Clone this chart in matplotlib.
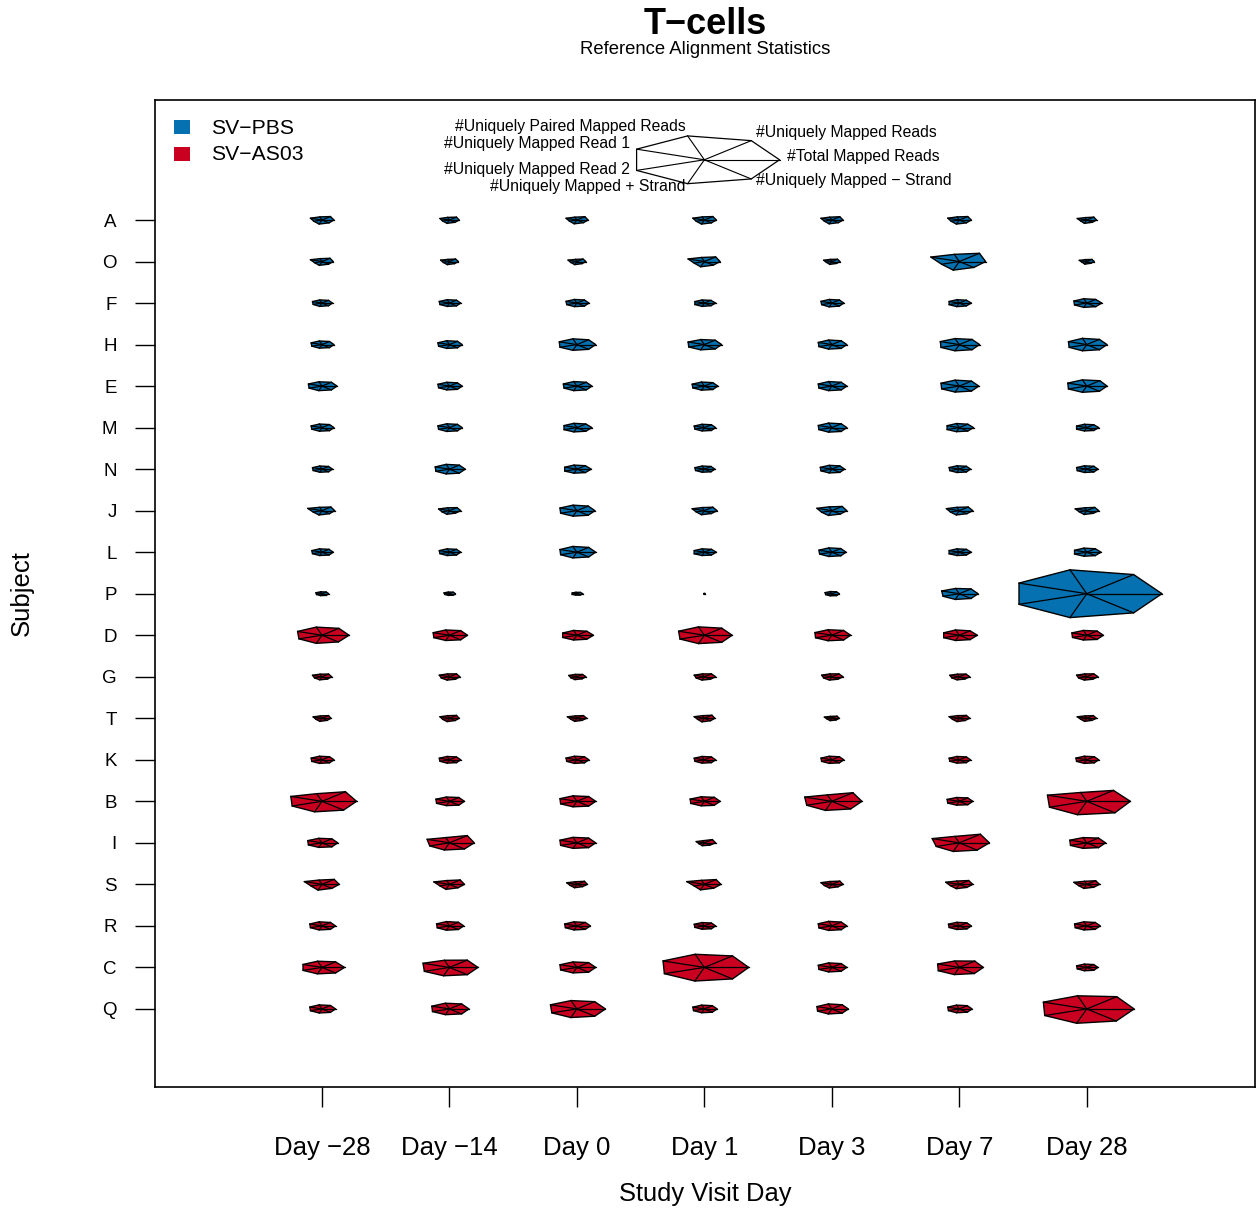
import numpy as np
import matplotlib
matplotlib.use("Agg")
import matplotlib.pyplot as plt
from matplotlib.patches import Polygon, Rectangle

plt.rcParams['font.family'] = ['Liberation Sans', 'DejaVu Sans']

# study days (x axis) and subjects, top to bottom
days = ["Day \u221228", "Day \u221214", "Day 0", "Day 1", "Day 3", "Day 7", "Day 28"]
subjects = ["A", "O", "F", "H", "E", "M", "N", "J", "L", "P",
            "D", "G", "T", "K", "B", "I", "S", "R", "C", "Q"]
groups = ["SV-PBS"] * 10 + ["SV-AS03"] * 10
group_names = ["SV\u2212PBS", "SV\u2212AS03"]
group_colors = {"SV-PBS": "#0571B0", "SV-AS03": "#CA0020"}

variables = ["#Total Mapped Reads", "#Uniquely Mapped Reads",
             "#Uniquely Paired Mapped Reads", "#Uniquely Mapped Read 1",
             "#Uniquely Mapped Read 2", "#Uniquely Mapped + Strand",
             "#Uniquely Mapped \u2212 Strand"]

# scaled (0-1) star values per subject, one row of 7 variables per day
# None = sample missing
stars_A = [[.16, .18, .13, .17, .12, .17, .15], [.13, .15, .11, .14, .10, .14, .12],
           [.15, .17, .12, .16, .11, .16, .14], [.16, .18, .13, .17, .12, .17, .15],
           [.15, .17, .12, .16, .11, .16, .14], [.16, .18, .13, .17, .12, .17, .15],
           [.13, .15, .10, .14, .09, .14, .12]]
stars_O = [[.15, .17, .12, .17, .11, .16, .14], [.12, .13, .09, .13, .09, .13, .11],
           [.12, .13, .09, .13, .09, .13, .11], [.21, .24, .17, .24, .15, .22, .19],
           [.11, .12, .09, .12, .08, .12, .10], [.35, .43, .30, .42, .26, .36, .31],
           [.10, .11, .08, .11, .07, .11, .09]]
stars_F = [[.14, .14, .13, .14, .13, .14, .14], [.15, .15, .14, .15, .14, .14, .15],
           [.16, .16, .15, .16, .15, .15, .16], [.15, .14, .13, .14, .14, .14, .14],
           [.16, .16, .15, .16, .15, .16, .16], [.16, .15, .14, .15, .15, .15, .15],
           [.20, .19, .18, .19, .18, .18, .19]]
stars_H = [[.16, .16, .15, .16, .15, .15, .16], [.17, .17, .16, .17, .16, .16, .17],
           [.25, .25, .24, .26, .25, .24, .25], [.23, .23, .21, .24, .23, .22, .23],
           [.20, .20, .19, .20, .19, .19, .20], [.27, .27, .25, .28, .27, .26, .27],
           [.27, .27, .26, .27, .26, .26, .27]]
stars_E = [[.20, .20, .18, .20, .19, .19, .20], [.17, .17, .16, .17, .16, .16, .17],
           [.20, .20, .19, .20, .19, .19, .20], [.18, .18, .17, .18, .17, .17, .18],
           [.20, .20, .19, .20, .19, .19, .20], [.26, .26, .25, .27, .26, .25, .26],
           [.27, .28, .26, .28, .27, .26, .27]]
stars_M = [[.16, .16, .15, .16, .15, .15, .16], [.17, .17, .16, .17, .16, .16, .17],
           [.20, .19, .18, .19, .19, .18, .19], [.15, .15, .14, .15, .14, .14, .15],
           [.20, .20, .19, .20, .19, .19, .20], [.19, .18, .17, .18, .18, .17, .18],
           [.16, .15, .14, .15, .15, .14, .15]]
stars_N = [[.14, .14, .13, .14, .13, .13, .14], [.21, .21, .20, .21, .20, .20, .21],
           [.19, .18, .17, .18, .18, .17, .18], [.14, .14, .13, .14, .13, .13, .14],
           [.17, .17, .16, .17, .16, .16, .17], [.15, .15, .14, .15, .14, .14, .15],
           [.15, .15, .14, .15, .14, .14, .15]]
stars_J = [[.17, .19, .14, .21, .13, .18, .16], [.15, .16, .12, .16, .11, .15, .13],
           [.24, .24, .23, .25, .24, .23, .24], [.17, .18, .13, .18, .12, .17, .15],
           [.20, .22, .16, .22, .15, .20, .18], [.18, .19, .14, .19, .13, .18, .16],
           [.16, .17, .12, .17, .11, .16, .14]]
stars_L = [[.15, .15, .14, .15, .14, .14, .15], [.15, .15, .14, .15, .14, .14, .15],
           [.25, .25, .24, .25, .24, .24, .25], [.16, .15, .14, .15, .15, .14, .15],
           [.19, .19, .18, .19, .18, .18, .19], [.16, .15, .14, .15, .15, .14, .15],
           [.19, .18, .17, .18, .18, .17, .18]]
stars_P = [[.09, .09, .08, .09, .08, .08, .09], [.08, .08, .07, .08, .07, .07, .08],
           [.08, .07, .06, .07, .07, .06, .07], [.01, .01, .01, .01, .01, .01, .01],
           [.10, .10, .09, .10, .09, .09, .10], [.25, .25, .22, .26, .24, .24, .25],
           [1.0, 1.0, 1.0, 1.0, 1.0, 1.0, 1.0]]
stars_D = [[.36, .36, .34, .36, .34, .34, .35], [.24, .24, .22, .24, .23, .22, .24],
           [.22, .21, .20, .21, .21, .20, .21], [.37, .37, .35, .38, .36, .35, .37],
           [.25, .25, .23, .25, .24, .23, .25], [.24, .23, .22, .23, .23, .22, .23],
           [.22, .22, .20, .22, .21, .20, .22]]
stars_G = [[.13, .14, .11, .14, .11, .13, .12], [.14, .15, .12, .15, .12, .14, .13],
           [.12, .12, .10, .12, .09, .12, .11], [.15, .15, .12, .15, .12, .14, .13],
           [.15, .15, .12, .15, .12, .14, .13], [.14, .14, .11, .14, .11, .13, .12],
           [.15, .15, .12, .15, .12, .14, .13]]
stars_T = [[.12, .14, .10, .13, .09, .13, .11], [.13, .15, .11, .14, .10, .14, .12],
           [.13, .14, .10, .14, .09, .13, .11], [.14, .16, .11, .15, .10, .15, .13],
           [.10, .11, .08, .11, .07, .10, .09], [.14, .15, .11, .15, .10, .14, .12],
           [.13, .14, .10, .14, .09, .13, .11]]
stars_K = [[.16, .16, .15, .16, .15, .15, .16], [.15, .15, .14, .15, .14, .14, .15],
           [.16, .16, .15, .16, .15, .15, .16], [.15, .15, .14, .15, .14, .14, .15],
           [.16, .16, .15, .16, .15, .15, .16], [.15, .15, .14, .15, .14, .14, .15],
           [.16, .16, .15, .16, .15, .15, .16]]
stars_B = [[.46, .50, .32, .46, .44, .44, .46], [.20, .20, .18, .20, .19, .18, .20],
           [.25, .25, .23, .25, .24, .23, .25], [.21, .21, .19, .21, .20, .19, .21],
           [.40, .45, .27, .40, .37, .38, .40], [.18, .18, .16, .18, .17, .16, .18],
           [.58, .57, .37, .58, .55, .56, .60]]
stars_I = [[.21, .21, .19, .21, .20, .19, .21], [.33, .38, .22, .33, .29, .30, .32],
           [.25, .25, .23, .25, .24, .23, .25], [.15, .17, .09, .12, .08, .12, .12],
           None, [.40, .45, .27, .40, .34, .36, .38],
           [.25, .25, .22, .25, .24, .23, .25]]
stars_S = [[.23, .26, .18, .26, .16, .24, .21], [.20, .23, .16, .23, .14, .21, .18],
           [.14, .16, .11, .15, .10, .14, .12], [.22, .25, .17, .26, .15, .23, .20],
           [.15, .17, .12, .16, .11, .15, .13], [.18, .20, .14, .20, .13, .18, .16],
           [.17, .19, .13, .19, .12, .17, .15]]
stars_R = [[.18, .18, .17, .18, .17, .17, .18], [.19, .19, .18, .19, .18, .18, .19],
           [.18, .18, .17, .18, .17, .17, .18], [.15, .15, .14, .15, .14, .14, .15],
           [.20, .20, .19, .20, .19, .19, .20], [.16, .16, .15, .16, .15, .15, .16],
           [.18, .18, .17, .18, .17, .17, .18]]
stars_C = [[.30, .29, .26, .28, .28, .27, .29], [.38, .38, .30, .39, .37, .35, .38],
           [.25, .25, .23, .25, .24, .23, .25], [.59, .60, .55, .61, .59, .57, .60],
           [.20, .20, .19, .20, .19, .19, .20], [.32, .33, .27, .32, .31, .30, .32],
           [.15, .15, .14, .15, .14, .14, .15]]
stars_Q = [[.18, .18, .17, .18, .17, .17, .18], [.26, .26, .24, .26, .25, .24, .26],
           [.38, .38, .35, .39, .37, .36, .38], [.17, .17, .16, .17, .16, .16, .17],
           [.22, .22, .21, .22, .21, .21, .22], [.17, .17, .16, .17, .16, .16, .17],
           [.63, .64, .55, .64, .62, .60, .63]]

star_table = {"A": stars_A, "O": stars_O, "F": stars_F, "H": stars_H, "E": stars_E,
              "M": stars_M, "N": stars_N, "J": stars_J, "L": stars_L, "P": stars_P,
              "D": stars_D, "G": stars_G, "T": stars_T, "K": stars_K, "B": stars_B,
              "I": stars_I, "S": stars_S, "R": stars_R, "C": stars_C, "Q": stars_Q}

RADIUS = 0.59
angles = np.linspace(0, 2 * np.pi, len(variables), endpoint=False)


def draw_star(ax, cx, cy, vals, color=None, lw=1.0):
    vals = np.asarray(vals)
    xs = cx + RADIUS * vals * np.cos(angles)
    ys = cy + RADIUS * vals * np.sin(angles)
    poly = Polygon(np.column_stack([xs, ys]), closed=True,
                   facecolor=color if color else "none", edgecolor="black",
                   lw=lw, joinstyle="round", zorder=3)
    ax.add_patch(poly)
    for x, y in zip(xs, ys):
        ax.plot([cx, x], [cy, y], color="black", lw=lw * 0.9, zorder=4)


fig = plt.figure(figsize=(12.56, 12.14), dpi=100)
ax = fig.add_axes([155 / 1256, 127 / 1214, 1100 / 1256, 987 / 1214])

n = len(subjects)
for i, subj in enumerate(subjects):
    cy = n - i
    color = group_colors[groups[i]]
    for j, vals in enumerate(star_table[subj]):
        if vals is None:
            continue
        draw_star(ax, j + 1, cy, vals, color)

# key star
key_x, key_y = 4.0, 21.45
draw_star(ax, key_x, key_y, np.ones(len(variables)), None, lw=0.9)
for ang, lab in zip(angles, variables):
    c, s = np.cos(ang), np.sin(ang)
    ha = "left" if c > 0.05 else ("right" if c < -0.05 else "center")
    ax.text(key_x + 1.1 * RADIUS * c, key_y + 1.25 * RADIUS * s + 0.08, lab,
            ha=ha, va="center", fontsize=11.3)

ax.set_xlim(-0.31, 8.32)
ax.set_ylim(-0.88, 22.89)

ax.set_xticks(range(1, len(days) + 1))
ax.set_xticklabels(days, fontsize=18.5)
ax.set_yticks(range(1, n + 1))
ax.set_yticklabels(subjects[::-1], fontsize=13.5)
ax.tick_params(axis="x", length=14.4, width=1.0, pad=21)
ax.tick_params(axis="y", length=14.4, width=1.0, pad=13)
for sp in ax.spines.values():
    sp.set_linewidth(1.2)

# legend
for k, (gname, gkey) in enumerate(zip(group_names, ["SV-PBS", "SV-AS03"])):
    yc = 0.9726 - k * 0.0273
    ax.add_patch(Rectangle((0.0173, yc - 0.0071), 0.01455, 0.0142,
                           transform=ax.transAxes, facecolor=group_colors[gkey],
                           edgecolor="none", clip_on=False))
    ax.text(0.0509, yc - 0.001, gname, transform=ax.transAxes, ha="left",
            va="center", fontsize=15.2)

fig.text(705 / 1256, 1 - 25 / 1214, "T\u2212cells", ha="center", va="center",
         fontsize=26, fontweight="bold")
fig.text(705 / 1256, 1 - 50 / 1214, "Reference Alignment Statistics",
         ha="center", va="center", fontsize=13.3)
fig.text(705 / 1256, 1 - 1194 / 1214, "Study Visit Day", ha="center",
         va="center", fontsize=18.4)
fig.text(22 / 1256, 1 - 593 / 1214, "Subject", ha="center", va="center",
         rotation=90, fontsize=18.5)

fig.savefig("out.png", dpi=100)
